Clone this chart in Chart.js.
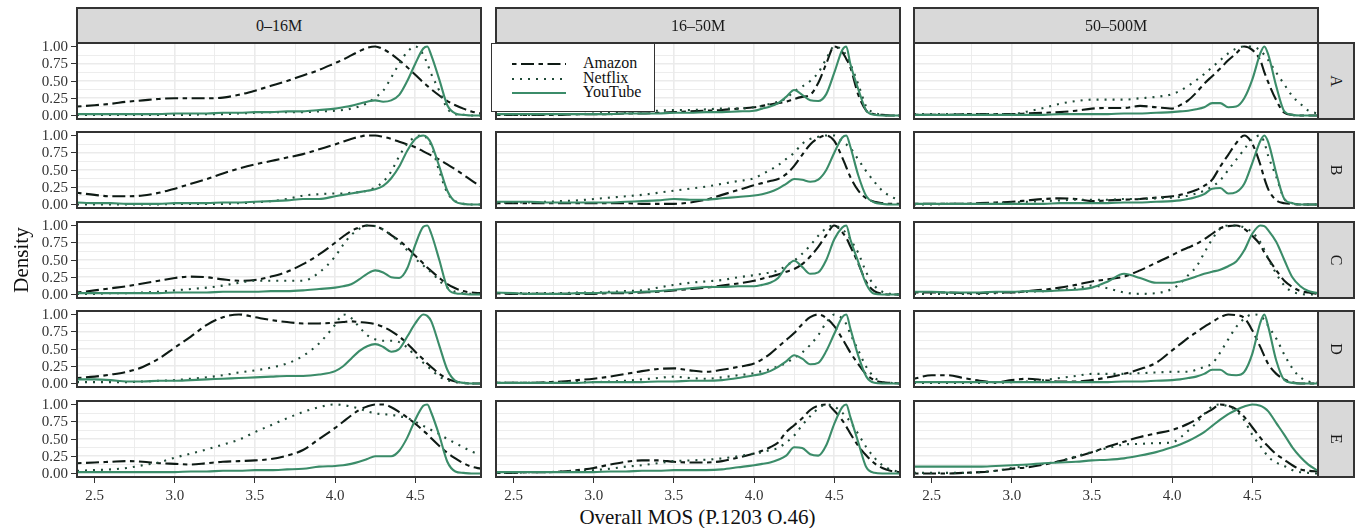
<!DOCTYPE html>
<html>
<head>
<meta charset="utf-8">
<script src="https://cdn.jsdelivr.net/npm/chart.js@4.4.1/dist/chart.umd.min.js"></script>
<style>
  html, body { margin: 0; padding: 0; background: #fff; }
  #fig { position: relative; width: 1363px; height: 528px; overflow: hidden; font-family: "Liberation Serif", "Times New Roman", serif; color: #1a1a1a; }
  #fig canvas { position: absolute; }
  .box { position: absolute; box-sizing: border-box; border: 2px solid #333; pointer-events: none; }
  .strip { position: absolute; box-sizing: border-box; border: 2px solid #333; background: #d9d9d9; display: flex; align-items: center; justify-content: center; font-size: 16px; color: #1a1a1a; }
  .strip span.rot { display: inline-block; transform: rotate(90deg); }
  .tick { position: absolute; font-size: 15px; color: #333; white-space: nowrap; line-height: 1; }
  .tmark { position: absolute; background: #333; }
  .legend { position: absolute; box-sizing: border-box; background: #fff; border: 1px solid #333; }
  .legend .lab { position: absolute; font-size: 16px; line-height: 1; color: #111; }
</style>
</head>
<body>
<div id="fig"></div>
<script>
// x positions (Overall MOS) shared by all curves
const mos = [2.39,2.5,2.6,2.7,2.8,2.9, 3.0,3.1,3.2,3.3,3.4, 3.5,3.6,3.7,3.8,3.9, 4.0,4.05,4.1,4.15,4.2, 4.25,4.3,4.35,4.4,4.45, 4.5,4.55,4.575,4.6,4.65,4.7, 4.75,4.8,4.85,4.91];

const groups = ['0–16M', '16–50M', '50–500M'];
const rowNames = ['A', 'B', 'C', 'D', 'E'];
const services = ['Amazon', 'Netflix', 'YouTube'];
const xTicks = [2.5, 3.0, 3.5, 4.0, 4.5];
const yTicks = [0, 0.25, 0.5, 0.75, 1];

// 0-16M
const amazon_016_A = [.13,.15,.17,.2,.22,.24, .25,.25,.25,.26,.3, .36,.43,.5,.58,.66, .76,.81,.87,.93,.98, 1,.96,.89,.8,.7, .59,.48,.43,.38,.29,.21, .15,.1,.06,.03];
const netflix_016_A = [.01,.01,.01,.01,.01,.01, .01,.01,.02,.02,.03, .04,.05,.05,.05,.06, .07,.08,.1,.13,.18, .26,.36,.55,.75,.92, 1,.88,.75,.6,.36,.1, .02,.01,0,0];
const youtube_016_A = [.02,.02,.02,.02,.02,.02, .03,.03,.03,.04,.04, .05,.05,.06,.06,.08, .1,.12,.14,.17,.2, .22,.2,.22,.3,.5, .75,.97,1,.87,.52,.15, .03,.01,0,0];
const amazon_016_B = [.17,.14,.12,.12,.13,.17, .23,.3,.37,.45,.52, .58,.63,.68,.73,.8, .87,.91,.95,.98,1, 1,.98,.95,.91,.87, .83,.77,.74,.71,.65,.58, .51,.43,.35,.26];
const netflix_016_B = [0,0,0,0,0,0, .01,.01,.01,.01,.02, .03,.05,.08,.13,.15, .16,.16,.17,.18,.2, .25,.33,.48,.7,.88, .98,1,.95,.85,.48,.17, .05,.01,0,0];
const youtube_016_B = [.03,.02,.02,.01,.01,.01, .02,.02,.02,.03,.03, .04,.05,.06,.08,.08, .12,.14,.16,.18,.2, .22,.27,.38,.55,.78, .95,1,.97,.88,.55,.2, .04,.01,0,0];
const amazon_016_C = [.03,.06,.09,.12,.16,.2, .24,.26,.25,.22,.2, .21,.26,.33,.44,.58, .75,.84,.92,.97,1, .99,.94,.86,.78,.68, .56,.45,.39,.34,.24,.15, .09,.05,.03,.02];
const netflix_016_C = [.01,.01,.02,.02,.03,.04, .06,.08,.1,.13,.17, .2,.2,.2,.2,.32, .55,.72,.86,.95,1, .99,.94,.86,.76,.64, .52,.42,.37,.32,.2,.1, .04,.02,.01,.01];
const youtube_016_C = [.02,.02,.02,.02,.02,.02, .03,.03,.03,.04,.04, .04,.05,.05,.06,.08, .1,.12,.15,.22,.3, .35,.32,.25,.24,.38, .72,.98,1,.88,.5,.1, .02,.01,0,0];
const amazon_016_D = [.08,.1,.13,.17,.24,.36, .52,.68,.85,.96,1, .96,.92,.89,.87,.87, .88,.89,.9,.89,.88, .86,.82,.76,.68,.58, .46,.35,.29,.24,.14,.07, .03,.01,0,0];
const netflix_016_D = [.02,.02,.02,.02,.03,.04, .05,.07,.09,.12,.16, .19,.23,.29,.4,.58, .85,1,.95,.82,.7, .64,.62,.62,.6,.52, .4,.3,.25,.2,.1,.05, .02,.01,0,0];
const youtube_016_D = [.06,.06,.05,.03,.03,.04, .04,.05,.06,.07,.08, .09,.1,.11,.11,.13, .18,.25,.36,.47,.54, .57,.53,.46,.5,.68, .87,1,.98,.9,.55,.2, .04,.01,0,0];
const amazon_016_E = [.15,.16,.17,.18,.17,.15, .14,.13,.15,.17,.18, .19,.21,.26,.34,.5, .66,.75,.84,.92,.97, 1,1,.96,.89,.81, .72,.62,.57,.51,.4,.3, .22,.15,.1,.07];
const netflix_016_E = [.04,.05,.06,.08,.12,.16, .23,.29,.35,.42,.49, .6,.7,.8,.89,.96, 1,.99,.97,.94,.9, .87,.86,.85,.83,.8, .75,.69,.66,.63,.57,.5, .44,.38,.32,.27];
const youtube_016_E = [.02,.02,.02,.02,.02,.02, .02,.03,.03,.04,.04, .05,.05,.06,.07,.1, .11,.12,.14,.17,.21, .25,.25,.25,.33,.52, .78,.98,1,.88,.55,.17, .03,.01,0,0];

// 16-50M
const amazon_1650_A = [.01,.01,.01,.01,.01,.02, .02,.02,.03,.03,.04, .05,.06,.07,.08,.1, .12,.14,.16,.18,.2, .24,.27,.3,.47,.75, 1,.92,.82,.7,.3,.07, .02,.01,0,0];
const netflix_1650_A = [.01,.01,.01,.02,.02,.02, .03,.04,.05,.06,.07, .08,.08,.09,.1,.1, .12,.14,.17,.2,.25, .35,.42,.5,.62,.82, 1,.95,.87,.75,.45,.13, .04,.01,0,0];
const youtube_1650_A = [.02,.02,.02,.02,.02,.02, .02,.02,.03,.03,.03, .04,.04,.05,.05,.06, .07,.1,.13,.18,.27, .37,.3,.22,.21,.31, .62,.95,1,.75,.38,.07, .01,0,0,0];
const amazon_1650_B = [.02,.02,.02,.02,.02,.02, .02,.02,.02,.01,.01, .01,.03,.07,.14,.21, .28,.31,.34,.37,.44, .56,.72,.87,.96,1, .92,.68,.54,.4,.2,.09, .04,.02,.01,.01];
const netflix_1650_B = [.02,.03,.03,.04,.05,.06, .08,.1,.12,.14,.17, .2,.23,.26,.3,.34, .38,.44,.5,.57,.66, .75,.88,.95,.98,1, 1,.91,.87,.82,.65,.48, .33,.2,.12,.06];
const youtube_1650_B = [.04,.04,.04,.03,.03,.03, .03,.03,.04,.05,.06, .08,.07,.07,.09,.11, .13,.15,.18,.23,.3, .37,.36,.33,.36,.5, .75,.97,1,.84,.42,.12, .03,.01,0,0];
const amazon_1650_C = [.02,.01,.01,.01,.01,.01, .01,.02,.02,.03,.04, .06,.08,.1,.13,.16, .2,.23,.26,.29,.33, .37,.44,.55,.69,.86, 1,.9,.82,.7,.45,.18, .05,.01,0,0];
const netflix_1650_C = [.02,.02,.02,.02,.02,.03, .03,.04,.05,.06,.1, .14,.17,.19,.21,.25, .28,.3,.32,.35,.42, .49,.59,.71,.85,.96, 1,.94,.89,.8,.6,.32, .13,.04,.01,0];
const youtube_1650_C = [.03,.02,.01,.01,.01,.02, .02,.03,.03,.04,.05, .07,.09,.11,.11,.12, .12,.14,.17,.24,.4, .49,.4,.3,.32,.5, .8,.97,1,.8,.47,.15, .01,0,0,0];
const amazon_1650_D = [.01,.01,.01,.02,.03,.05, .07,.1,.14,.18,.21, .22,.19,.17,.2,.24, .29,.35,.43,.53,.63, .73,.86,.96,1,.95, .83,.65,.55,.45,.28,.13, .05,.02,.01,0];
const netflix_1650_D = [.01,.01,.01,.01,.02,.02, .02,.03,.04,.06,.08, .1,.08,.07,.09,.12, .15,.18,.21,.25,.3, .37,.45,.56,.7,.88, 1,.94,.86,.72,.48,.24, .09,.02,.01,0];
const youtube_1650_D = [.01,.01,.01,.01,.01,.01, .02,.02,.02,.02,.03, .03,.04,.04,.05,.08, .12,.14,.18,.24,.32, .41,.36,.28,.3,.47, .72,.96,1,.8,.4,.1, .01,0,0,0];
const amazon_1650_E = [.01,.01,.02,.02,.03,.05, .08,.13,.17,.19,.19, .17,.16,.16,.18,.23, .29,.33,.38,.45,.6, .7,.8,.92,.98,1, .91,.77,.68,.58,.4,.26, .15,.08,.04,.02];
const netflix_1650_E = [.01,.01,.02,.02,.03,.04, .05,.07,.1,.12,.15, .18,.19,.2,.22,.25, .29,.31,.34,.37,.45, .55,.7,.83,.94,1, .97,.88,.82,.75,.57,.38, .23,.12,.06,.02];
const youtube_1650_E = [.02,.02,.02,.02,.02,.02, .02,.03,.03,.04,.04, .05,.05,.05,.06,.09, .12,.14,.16,.2,.26, .38,.37,.28,.26,.41, .72,.96,1,.82,.45,.09, .01,0,0,0];

// 50-500M
const amazon_50500_A = [.01,.01,.01,.02,.02,.02, .02,.03,.04,.05,.07, .1,.11,.11,.14,.12, .1,.15,.22,.33,.46, .57,.68,.8,.9,1, .95,.8,.63,.48,.22,.04, .01,0,0,0];
const netflix_50500_A = [.02,.02,.02,.02,.02,.02, .02,.06,.11,.17,.21, .23,.23,.23,.25,.27, .31,.36,.43,.51,.6, .7,.8,.9,.97,1, 1,.94,.88,.8,.62,.45, .28,.17,.07,.03];
const youtube_50500_A = [.01,.01,.01,.01,.01,.01, .01,.01,.01,.02,.02, .02,.02,.03,.03,.04, .05,.06,.07,.09,.12, .18,.18,.12,.13,.25, .52,.9,1,.88,.42,.06, .01,0,0,0];
const amazon_50500_B = [.01,.01,.01,.01,.02,.03, .04,.06,.08,.09,.08, .05,.06,.07,.08,.1, .12,.14,.17,.21,.27, .36,.55,.72,.89,1, .88,.58,.38,.22,.06,.02, .01,0,0,0];
const netflix_50500_B = [0,0,.01,.01,.01,.02, .03,.04,.05,.06,.07, .07,.07,.08,.08,.09, .1,.11,.13,.16,.2, .26,.35,.5,.65,.8, .95,1,.9,.7,.4,.08, .02,0,0,0];
const youtube_50500_B = [.01,.01,.01,.01,.01,.01, .01,.01,.01,.02,.02, .02,.02,.03,.03,.04, .05,.06,.08,.11,.15, .23,.24,.16,.18,.3, .6,.92,1,.9,.45,.08, .02,0,0,0];
const amazon_50500_C = [.03,.03,.03,.02,.02,.03, .03,.05,.07,.1,.14, .19,.22,.26,.35,.46, .57,.63,.68,.73,.8, .88,.96,.99,1,.95, .85,.72,.61,.52,.35,.2, .11,.05,.03,.01];
const netflix_50500_C = [.01,.01,.01,.01,.01,.02, .03,.04,.05,.07,.09, .13,.09,.03,.01,.02, .08,.16,.28,.4,.6, .8,.95,1,1,.97, .9,.76,.65,.52,.3,.13, .04,.01,0,0];
const youtube_50500_C = [.04,.04,.03,.03,.03,.04, .04,.05,.05,.06,.07, .1,.19,.3,.24,.17, .17,.19,.22,.26,.3, .33,.36,.41,.48,.64, .88,1,.99,.93,.76,.5, .25,.12,.05,.02];
const amazon_50500_D = [.07,.12,.12,.08,.04,.02, .05,.07,.05,.03,.03, .05,.09,.14,.21,.3, .48,.57,.66,.74,.82, .89,.96,1,.99,.95, .77,.53,.4,.28,.14,.06, .02,0,0,0];
const netflix_50500_D = [.01,.01,.01,.01,.01,.01, .02,.03,.05,.08,.11, .14,.14,.14,.15,.16, .17,.17,.17,.2,.24, .29,.45,.64,.82,.94, 1,.98,.92,.83,.65,.42, .22,.09,.03,.01];
const youtube_50500_D = [.02,.02,.02,.02,.02,.02, .02,.02,.02,.02,.02, .02,.02,.03,.03,.04, .05,.06,.08,.1,.14, .2,.2,.13,.12,.17, .43,.88,1,.82,.33,.05, .01,0,0,0];
const amazon_50500_E = [0,0,0,.01,.02,.04, .07,.09,.13,.18,.24, .31,.39,.46,.53,.58, .63,.67,.72,.78,.86, .93,1,.98,.93,.82, .67,.52,.45,.39,.28,.2, .12,.06,.04,.03];
const netflix_50500_E = [.01,.01,.01,.01,.02,.04, .08,.11,.14,.18,.25, .31,.37,.42,.43,.44, .45,.52,.62,.73,.86, .97,1,.97,.91,.77, .56,.4,.32,.24,.16,.11, .05,.02,.01,0];
const youtube_50500_E = [.1,.1,.1,.1,.1,.11, .12,.13,.15,.16,.17, .19,.2,.22,.26,.31, .38,.42,.47,.53,.6, .69,.78,.86,.92,.97, 1,.98,.95,.9,.73,.56, .38,.24,.13,.04];

// panel table: [column][row] -> [amazon, netflix, youtube]
const panels = [
  [[amazon_016_A, netflix_016_A, youtube_016_A], [amazon_016_B, netflix_016_B, youtube_016_B], [amazon_016_C, netflix_016_C, youtube_016_C], [amazon_016_D, netflix_016_D, youtube_016_D], [amazon_016_E, netflix_016_E, youtube_016_E]],
  [[amazon_1650_A, netflix_1650_A, youtube_1650_A], [amazon_1650_B, netflix_1650_B, youtube_1650_B], [amazon_1650_C, netflix_1650_C, youtube_1650_C], [amazon_1650_D, netflix_1650_D, youtube_1650_D], [amazon_1650_E, netflix_1650_E, youtube_1650_E]],
  [[amazon_50500_A, netflix_50500_A, youtube_50500_A], [amazon_50500_B, netflix_50500_B, youtube_50500_B], [amazon_50500_C, netflix_50500_C, youtube_50500_C], [amazon_50500_D, netflix_50500_D, youtube_50500_D], [amazon_50500_E, netflix_50500_E, youtube_50500_E]]
];

const colors = ['#0e1a14', '#1f4a37', '#3b8c69'];
const dashes = [[4.5, 4.5, 13, 4.5], [2, 6], []];

const colLeft = [77, 496, 914];
const rowTop = [43, 132, 222, 311, 401];
const W = 404, H = 76;

const fig = document.getElementById('fig');

function el(tag, cls, css, text) {
  let e = document.createElement(tag);
  if (cls) e.className = cls;
  Object.assign(e.style, css || {});
  if (text != null) e.textContent = text;
  fig.appendChild(e);
  return e;
}

function gridColor(ctx, step) {
  let v = ctx.tick ? ctx.tick.value : null;
  if (v == null) return 'rgba(0,0,0,0)';
  let k = v / step;
  return Math.abs(k - Math.round(k)) < 1e-6 ? '#ebebeb' : 'rgba(0,0,0,0)';
}
function gridWidth(ctx, major) {
  let v = ctx.tick ? ctx.tick.value : 0;
  let k = v / major;
  return Math.abs(k - Math.round(k)) < 1e-6 ? 1.6 : 0.9;
}

let charts = [];
for (let c = 0; c < 3; c++) {
  for (let r = 0; r < 5; r++) {
    let cv = el('canvas', null, { left: colLeft[c] + 'px', top: rowTop[r] + 'px', width: W + 'px', height: H + 'px' });
    cv.width = W; cv.height = H;
    let sets = panels[c][r].map((vals, i) => ({
      label: services[i],
      data: mos.map((x, j) => ({ x: x, y: vals[j] })),
      borderColor: colors[i],
      borderWidth: 2.1,
      borderDash: dashes[i],
      borderCapStyle: 'butt',
      pointRadius: 0,
      fill: false,
      cubicInterpolationMode: 'monotone',
      order: 2 - i
    }));
    let chart = new Chart(cv, {
      type: 'line',
      data: { datasets: sets },
      options: {
        responsive: false,
        animation: false,
        events: [],
        layout: { padding: 0 },
        plugins: { legend: { display: false }, tooltip: { enabled: false } },
        scales: {
          x: {
            type: 'linear', min: 2.39, max: 4.91,
            ticks: { display: false, stepSize: 0.25 },
            grid: { drawTicks: false, color: ctx => gridColor(ctx, 0.25), lineWidth: ctx => gridWidth(ctx, 0.5) },
            border: { display: false }
          },
          y: {
            type: 'linear', min: -0.05, max: 1.05,
            ticks: { display: false, stepSize: 0.125 },
            grid: { drawTicks: false, color: ctx => gridColor(ctx, 0.125), lineWidth: ctx => gridWidth(ctx, 0.25) },
            border: { display: false }
          }
        }
      }
    });
    charts.push({ c, r, chart });
    el('div', 'box', { left: (colLeft[c] - 1) + 'px', top: (rowTop[r] - 1) + 'px', width: (W + 2) + 'px', height: (H + 2) + 'px' });
  }
}

// strips
for (let c = 0; c < 3; c++) {
  let s = el('div', 'strip', { left: (colLeft[c] - 1) + 'px', top: '7px', width: (W + 2) + 'px', height: '37px' });
  s.textContent = groups[c];
}
for (let r = 0; r < 5; r++) {
  let s = el('div', 'strip', { left: (colLeft[2] + W - 1) + 'px', top: (rowTop[r] - 1) + 'px', width: '38px', height: (H + 2) + 'px' });
  let sp = document.createElement('span');
  sp.className = 'rot';
  sp.textContent = rowNames[r];
  s.appendChild(sp);
}

// axis ticks and labels from the chart scales
charts.forEach(({ c, r, chart }) => {
  if (c === 0) {
    yTicks.forEach(v => {
      let py = rowTop[r] + chart.scales.y.getPixelForValue(v);
      el('div', 'tmark', { left: (colLeft[0] - 6) + 'px', top: (py - 0.5) + 'px', width: '5px', height: '1px' });
      let t = el('div', 'tick', { right: (1363 - colLeft[0] + 9) + 'px', top: (py - 7.5) + 'px' }, v.toFixed(2));
    });
  }
  if (r === 4) {
    xTicks.forEach(v => {
      let px = colLeft[c] + chart.scales.x.getPixelForValue(v);
      el('div', 'tmark', { left: (px - 0.5) + 'px', top: (rowTop[4] + H + 1) + 'px', width: '1px', height: '5px' });
      let t = el('div', 'tick', { left: px + 'px', top: (rowTop[4] + H + 11) + 'px', transform: 'translateX(-50%)' }, v.toFixed(1));
    });
  }
});

// axis titles
el('div', null, { position: 'absolute', left: '0px', width: '1395px', top: '507px', textAlign: 'center', fontSize: '21px', lineHeight: '1', color: '#111' }, 'Overall MOS (P.1203 O.46)');
el('div', null, { position: 'absolute', left: '21px', top: '260px', fontSize: '21px', lineHeight: '1', color: '#111', transform: 'translate(-50%,-50%) rotate(-90deg)', whiteSpace: 'nowrap' }, 'Density');

// legend
let lg = el('div', 'legend', { left: '491px', top: '43px', width: '164px', height: '69px' });
let svg = '<svg width="164" height="69" style="position:absolute;left:0;top:0">';
[20, 35, 49].forEach((y, i) => {
  svg += '<line x1="20" x2="74" y1="' + y + '" y2="' + y + '" stroke="' + colors[i] + '" stroke-width="2.1"' +
    (dashes[i].length ? ' stroke-dasharray="' + dashes[i].join(',') + '"' : '') + '/>';
});
svg += '</svg>';
lg.innerHTML = svg;
services.forEach((s, i) => {
  let l = document.createElement('div');
  l.className = 'lab';
  l.style.left = '91px';
  l.style.top = ([20, 35, 49][i] - 9) + 'px';
  l.textContent = s;
  lg.appendChild(l);
});
</script>
</body>
</html>
